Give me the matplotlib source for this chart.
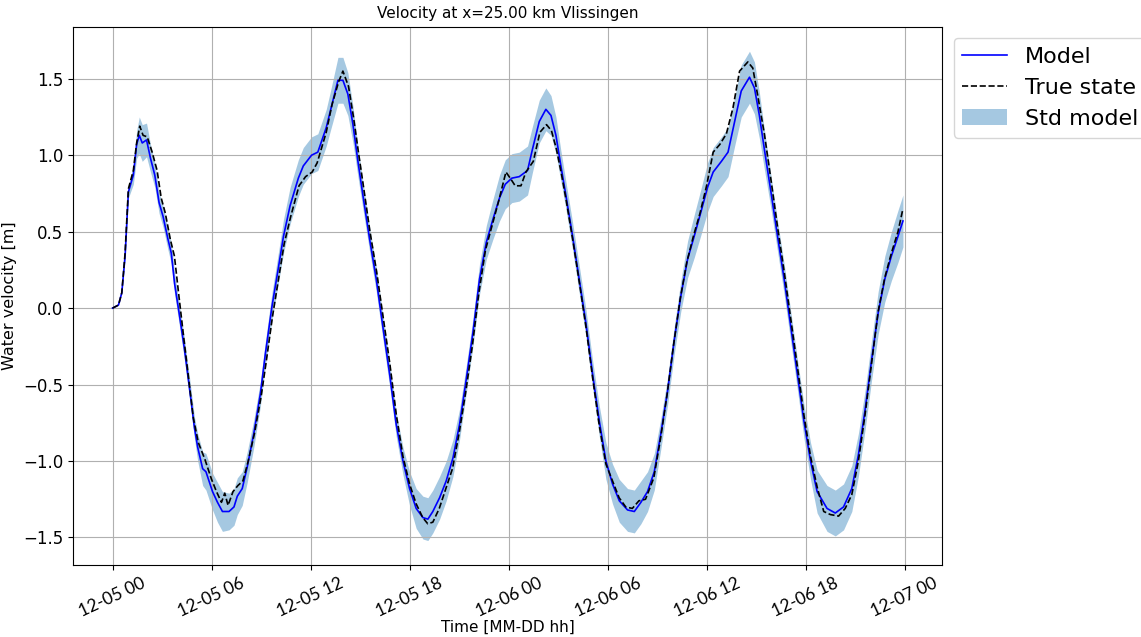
import numpy as np
import pandas as pd
import matplotlib
matplotlib.use("Agg")
import matplotlib.pyplot as plt
import matplotlib.dates as mdates

# hours after 12-05 00:00
model_hours = [0.0, 0.36, 0.56, 0.76, 0.96, 1.26, 1.46, 1.62, 1.8, 2.06, 2.3, 2.56, 2.82, 3.06, 3.36, 3.56, 3.76,
               4.06, 4.36, 4.66, 4.96, 5.16, 5.46, 5.66, 6.06, 6.36, 6.66, 7.06, 7.36, 7.56, 7.86, 8.16, 8.56,
               8.96, 9.26, 9.66, 10.06, 10.36, 10.76, 11.26, 11.56, 12.06, 12.44, 12.95, 13.25, 13.66, 13.96,
               14.26, 14.57, 14.87, 15.17, 15.58, 15.98, 16.38, 16.79, 17.19, 17.6, 18.0, 18.4, 18.81, 19.11,
               19.41, 19.82, 20.22, 20.63, 21.03, 21.43, 21.84, 22.24, 22.65, 23.05, 23.45, 23.8, 24.2, 24.65,
               25.15, 25.45, 25.86, 26.26, 26.57, 26.87, 27.17, 27.47, 27.88, 28.28, 28.69, 29.09, 29.5, 29.9,
               30.3, 30.71, 31.21, 31.62, 32.02, 32.42, 32.83, 33.23, 33.64, 34.04, 34.44, 34.85, 35.25, 35.66,
               36.06, 36.4, 36.9, 37.3, 37.7, 38.1, 38.6, 38.9, 39.2, 39.5, 39.9, 40.3, 40.7, 41.1, 41.5, 41.9,
               42.3, 42.7, 43.3, 43.8, 44.3, 44.8, 45.2, 45.6, 46.0, 46.4, 46.8, 47.2, 47.6, 47.9]
model_vel = [0.00, 0.02, 0.10, 0.34, 0.76, 0.87, 1.07, 1.13, 1.08, 1.10, 0.98, 0.87, 0.69, 0.60, 0.45, 0.36, 0.16,
             -0.05, -0.27, -0.52, -0.78, -0.91, -1.05, -1.07, -1.20, -1.27, -1.33, -1.33, -1.30, -1.23, -1.18, -1.04, -0.82,
             -0.56, -0.30, 0.01, 0.27, 0.47, 0.67, 0.85, 0.93, 1.00, 1.02, 1.18, 1.31, 1.49, 1.49,
             1.40, 1.20, 0.96, 0.74, 0.45, 0.19, -0.12, -0.43, -0.76, -1.00, -1.18, -1.31, -1.37, -1.38,
             -1.33, -1.24, -1.13, -0.98, -0.76, -0.47, -0.16, 0.19, 0.43, 0.58, 0.72, 0.81, 0.85, 0.86,
             0.90, 1.04, 1.22, 1.30, 1.26, 1.13, 0.93, 0.74, 0.47, 0.19, -0.10, -0.43, -0.74, -1.00,
             -1.15, -1.26, -1.32, -1.33, -1.27, -1.20, -1.07, -0.82, -0.54, -0.21, 0.08, 0.32, 0.47, 0.63,
             0.79, 0.89, 0.96, 1.02, 1.22, 1.42, 1.51, 1.44, 1.26, 1.04, 0.76, 0.47, 0.19, -0.12, -0.43, -0.74,
             -1.00, -1.20, -1.31, -1.34, -1.30, -1.18, -0.96, -0.67, -0.34, -0.03, 0.19, 0.34, 0.47, 0.57]
model_std = [0.0, 0.0, 0.0, 0.02, 0.04, 0.06, 0.09, 0.12, 0.12, 0.11, 0.09, 0.08, 0.07, 0.07, 0.07, 0.07, 0.07,
             0.07, 0.07, 0.07, 0.07, 0.09, 0.11, 0.12, 0.12, 0.13, 0.13, 0.12, 0.12, 0.12, 0.11, 0.10, 0.09,
             0.08, 0.08, 0.09, 0.10, 0.11, 0.12, 0.12, 0.12, 0.12, 0.12, 0.12, 0.13, 0.15, 0.15,
             0.14, 0.12, 0.10, 0.09, 0.08, 0.08, 0.08, 0.08, 0.08, 0.09, 0.11, 0.13, 0.14, 0.14,
             0.14, 0.14, 0.13, 0.12, 0.10, 0.09, 0.09, 0.10, 0.11, 0.13, 0.15, 0.16, 0.16, 0.16,
             0.16, 0.15, 0.14, 0.14, 0.13, 0.12, 0.10, 0.09, 0.09, 0.09, 0.09, 0.09, 0.10, 0.12,
             0.13, 0.14, 0.14, 0.14, 0.14, 0.13, 0.12, 0.10, 0.09, 0.09, 0.10, 0.12, 0.14, 0.15,
             0.16, 0.16, 0.16, 0.16, 0.16, 0.17, 0.17, 0.17, 0.15, 0.13, 0.11, 0.10, 0.10, 0.10, 0.10, 0.11,
             0.12, 0.14, 0.15, 0.15, 0.15, 0.15, 0.14, 0.13, 0.13, 0.14, 0.15, 0.16, 0.17, 0.17]

true_hours = [0.0, 0.36, 0.56, 0.76, 0.96, 1.26, 1.46, 1.65, 1.85, 2.1, 2.4, 2.7, 2.95, 3.2, 3.5, 3.75, 4.0,
              4.3, 4.6, 4.9, 5.2, 5.6, 6.0, 6.3, 6.6, 6.8, 7.0, 7.3, 7.6, 7.9, 8.2, 8.6, 9.0, 9.3, 9.7,
              10.1, 10.4, 10.8, 11.3, 11.7, 12.1, 12.4, 12.95, 13.3, 13.7, 13.96, 14.3, 14.6, 14.9, 15.2,
              15.6, 16.0, 16.4, 16.8, 17.2, 17.6, 18.0, 18.4, 18.8, 19.1, 19.41, 19.8, 20.2, 20.6, 21.0,
              21.4, 21.8, 22.2, 22.6, 23.0, 23.4, 23.84, 24.1, 24.4, 24.75, 25.05, 25.5, 25.9, 26.3, 26.6,
              26.9, 27.2, 27.5, 27.9, 28.3, 28.7, 29.1, 29.5, 29.9, 30.3, 30.7, 31.1, 31.5, 31.9, 32.3,
              32.8, 33.2, 33.6, 34.0, 34.4, 34.8, 35.2, 35.6, 36.0, 36.4, 36.8, 37.2, 37.6, 38.0, 38.5,
              38.8, 39.1, 39.5, 39.9, 40.3, 40.7, 41.1, 41.5, 41.9, 42.3, 42.7, 43.1, 43.5, 44.0, 44.4,
              44.8, 45.2, 45.6, 46.0, 46.4, 46.8, 47.2, 47.6, 47.9]
true_vel = [0.0, 0.02, 0.10, 0.36, 0.78, 0.90, 1.08, 1.19, 1.13, 1.12, 1.02, 0.90, 0.72, 0.62, 0.45, 0.34, 0.10,
            -0.18, -0.45, -0.72, -0.88, -0.99, -1.12, -1.20, -1.27, -1.21, -1.29, -1.20, -1.16, -1.13, -1.01, -0.82, -0.58, -0.36, -0.05,
            0.22, 0.42, 0.60, 0.80, 0.86, 0.89, 0.95, 1.15, 1.33, 1.48, 1.55, 1.45, 1.25, 1.02, 0.80,
            0.50, 0.24, -0.06, -0.36, -0.70, -0.97, -1.15, -1.28, -1.37, -1.41, -1.40, -1.31, -1.18, -1.05, -0.82,
            -0.55, -0.25, 0.10, 0.38, 0.54, 0.70, 0.89, 0.85, 0.80, 0.80, 0.89, 0.96, 1.15, 1.20, 1.16,
            1.04, 0.88, 0.70, 0.44, 0.16, -0.13, -0.46, -0.77, -1.02, -1.13, -1.24, -1.30, -1.31, -1.26, -1.25,
            -1.11, -0.86, -0.57, -0.24, 0.06, 0.30, 0.47, 0.62, 0.80, 1.02, 1.07, 1.14, 1.31, 1.55, 1.61,
            1.57, 1.39, 1.14, 0.84, 0.53, 0.24, -0.07, -0.38, -0.70, -0.97, -1.17, -1.33, -1.35, -1.36, -1.31,
            -1.22, -1.00, -0.70, -0.36, -0.02, 0.20, 0.36, 0.50, 0.65]

start = pd.Timestamp("2022-12-05 00:00")
t_model = start + pd.to_timedelta(model_hours, unit="h")
t_true = start + pd.to_timedelta(true_hours, unit="h")

m = np.array(model_vel)
s = np.array(model_std)

fig, ax = plt.subplots(figsize=(11.41, 6.37), dpi=100)
fig.subplots_adjust(left=0.064, right=0.826, top=0.958, bottom=0.113)

ax.plot(t_model, m, color="blue", lw=1.2, label="Model")
ax.plot(t_true, true_vel, "k--", lw=1.2, label="True state")
ax.fill_between(t_model, m - s, m + s, color="C0", alpha=0.4, lw=0, label="Std model")

ax.xaxis.set_major_locator(mdates.HourLocator(byhour=[0, 6, 12, 18]))
ax.xaxis.set_major_formatter(mdates.DateFormatter("%m-%d %H"))
ax.tick_params(axis="y", labelsize=12)
for lab in ax.get_xticklabels():
    lab.set_family("Lato")
    lab.set_fontsize(12.5)
plt.setp(ax.get_xticklabels(), rotation=25)

ax.set_title("Velocity at x=25.00 km Vlissingen", fontsize=11)
ax.set_xlabel("Time [MM-DD hh]", fontsize=11, labelpad=0)
ax.set_ylabel("Water velocity [m]", fontsize=11.5)
ax.grid(True)
ax.legend(loc="upper left", bbox_to_anchor=(1.0, 1.0), fontsize=16)

fig.savefig("out.png", dpi=100)
